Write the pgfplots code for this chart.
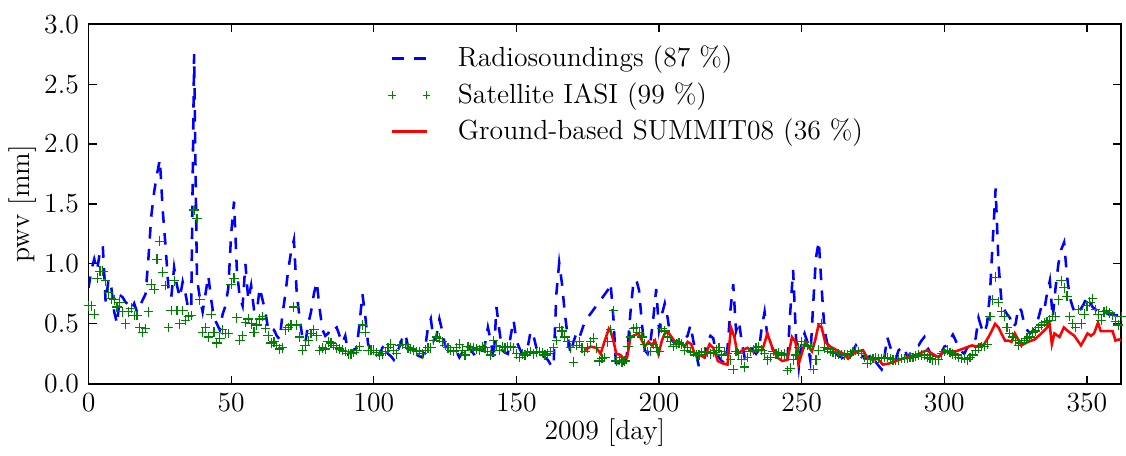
\documentclass[12pt,border=0pt]{standalone}
\usepackage{pgfplots}
\usepackage{pgfplotstable}
\pgfplotsset{compat=1.18}

\definecolor{mplblue}{rgb}{0,0,1}
\definecolor{mplgreen}{rgb}{0,0.5,0}
\definecolor{mplred}{rgb}{1,0,0}

\pgfplotsset{
    shortline legend/.style={legend image code/.code={\draw[##1] (0pt,0pt) -- (15pt,0pt); \path (28pt,0pt);}},
    twomark legend/.style={legend image code/.code={\path[##1, mark size=1.6pt] plot[only marks] coordinates {(0pt,0pt) (15pt,0pt)}; \path (28pt,0pt);}},
}

% radiosoundings, day / pwv
\pgfplotstableread{
day pwv
0 0.80
1 0.95
2 1.04
3 0.95
4 1.10
5 1.15
6 0.68
7 0.87
8 0.80
9 0.60
10 0.50
11 0.74
12 0.72
13 0.68
14 0.66
15 0.62
16 0.67
17 0.60
18 0.65
19 0.70
20 0.75
21 1.05
22 1.40
23 1.60
24 1.75
25 1.87
26 1.45
27 1.15
28 0.80
29 0.72
30 0.97
31 0.82
32 0.72
33 0.85
34 0.75
35 0.62
36 0.65
37 2.75
38 0.88
39 0.72
40 0.60
41 0.75
42 0.90
43 0.70
44 0.55
45 0.50
46 0.45
47 0.58
48 0.65
49 0.80
50 1.25
51 1.52
52 0.95
53 0.72
54 0.65
55 1.00
56 0.70
57 0.82
58 0.62
59 0.60
60 0.80
61 0.70
62 0.60
63 0.45
64 0.47
65 0.45
66 0.40
67 0.37
68 0.58
69 0.75
70 0.95
71 1.10
72 1.20
73 0.75
74 0.55
75 0.38
76 0.34
77 0.50
78 0.60
79 0.75
80 0.85
81 0.63
82 0.45
83 0.40
84 0.42
85 0.47
86 0.45
87 0.47
88 0.40
89 0.34
90 0.40
91 0.25
92 0.27
93 0.28
94 0.30
95 0.50
96 0.75
97 0.57
98 0.33
99 0.28
100 0.25
101 0.24
102 0.24
103 0.30
104 0.33
105 0.25
106 0.23
107 0.20
108 0.25
109 0.31
110 0.38
111 0.42
112 0.31
113 0.28
114 0.25
115 0.24
116 0.23
117 0.22
118 0.30
119 0.47
120 0.54
121 0.36
122 0.40
123 0.54
124 0.44
125 0.32
126 0.30
127 0.29
128 0.28
129 0.27
130 0.22
131 0.26
132 0.30
133 0.33
134 0.28
135 0.25
136 0.22
137 0.24
138 0.28
139 0.33
140 0.47
141 0.36
142 0.20
143 0.64
144 0.45
145 0.28
146 0.26
147 0.25
148 0.40
149 0.53
150 0.36
151 0.30
152 0.25
153 0.28
154 0.31
155 0.44
156 0.40
157 0.30
158 0.25
159 0.23
160 0.22
161 0.20
162 0.16
163 0.14
164 0.75
165 1.01
166 0.83
167 0.58
168 0.39
169 0.25
170 0.35
171 0.42
172 0.38
174 0.52
182 0.78
183 0.84
184 0.55
185 0.12
186 0.18
187 0.20
188 0.12
189 0.30
190 0.60
191 0.84
192 0.87
193 0.78
194 0.50
195 0.28
196 0.25
197 0.35
198 0.55
199 0.79
200 0.45
201 0.58
202 0.67
203 0.55
204 0.39
205 0.35
206 0.33
207 0.34
208 0.36
209 0.38
210 0.40
211 0.49
212 0.36
213 0.25
214 0.14
215 0.18
216 0.22
217 0.35
218 0.40
219 0.38
220 0.25
221 0.22
222 0.19
223 0.17
224 0.30
225 0.61
226 0.83
227 0.44
228 0.52
229 0.35
230 0.22
231 0.26
232 0.30
233 0.28
234 0.25
235 0.28
236 0.47
237 0.60
238 0.39
239 0.33
240 0.28
241 0.27
242 0.25
243 0.23
244 0.21
245 0.20
246 0.60
247 0.95
248 0.39
249 0.14
250 0.36
251 0.42
252 0.35
253 0.20
254 0.65
255 1.05
256 1.19
257 0.80
258 0.45
259 0.33
260 0.33
261 0.30
262 0.25
263 0.23
264 0.22
265 0.21
266 0.20
267 0.24
268 0.28
269 0.32
270 0.28
271 0.25
272 0.21
273 0.22
274 0.23
275 0.25
276 0.18
277 0.15
278 0.12
279 0.22
280 0.39
281 0.31
282 0.25
283 0.21
284 0.28
285 0.30
286 0.31
287 0.22
288 0.25
289 0.28
290 0.31
291 0.32
292 0.36
293 0.39
294 0.31
295 0.26
296 0.24
297 0.22
298 0.20
299 0.25
300 0.31
301 0.32
302 0.37
303 0.41
304 0.36
305 0.30
306 0.27
307 0.25
308 0.30
309 0.32
310 0.33
311 0.38
312 0.55
313 0.47
314 0.42
315 0.50
316 0.75
317 1.20
318 1.63
319 1.00
320 0.70
321 0.62
322 0.58
323 0.55
324 0.47
325 0.50
326 0.64
327 0.61
328 0.50
329 0.45
330 0.42
331 0.44
332 0.47
333 0.55
334 0.64
335 0.61
336 0.75
337 0.86
338 0.55
339 0.80
340 1.00
341 1.12
342 1.18
343 0.90
344 0.72
345 0.64
346 0.58
347 0.60
348 0.63
349 0.67
350 0.73
351 0.68
352 0.64
353 0.62
354 0.60
356 0.59
358 0.58
360 0.57
362 0.57
}\radio

% satellite IASI
\pgfplotstableread{
day pwv
0 0.65
1 0.65
2 0.58
3 0.88
4 0.94
5 0.94
6 0.86
7 0.76
8 0.71
9 0.70
10 0.64
11 0.68
12 0.60
13 0.50
14 0.60
15 0.63
16 0.57
17 0.57
18 0.47
19 0.43
20 0.46
21 0.60
22 0.83
23 0.79
24 1.04
25 1.19
26 0.93
27 0.82
28 0.47
29 0.61
30 0.86
31 0.61
32 0.50
33 0.61
34 0.53
35 0.56
36 0.57
37 1.45
38 1.38
39 0.70
40 0.43
41 0.47
42 0.39
43 0.58
44 0.43
45 0.34
46 0.38
47 0.45
48 0.42
49 0.42
50 0.83
51 0.88
52 0.55
53 0.36
54 0.40
55 0.51
56 0.54
57 0.50
58 0.43
59 0.49
60 0.54
61 0.56
62 0.46
63 0.40
64 0.34
65 0.35
66 0.32
67 0.29
68 0.30
69 0.45
70 0.47
71 0.49
72 0.64
73 0.49
74 0.39
75 0.28
76 0.32
77 0.36
78 0.42
79 0.45
80 0.40
81 0.28
82 0.30
83 0.29
84 0.35
85 0.34
86 0.32
87 0.30
88 0.29
89 0.28
90 0.27
91 0.25
92 0.25
93 0.26
94 0.28
95 0.31
96 0.49
97 0.43
98 0.28
99 0.28
100 0.28
101 0.26
102 0.24
103 0.25
104 0.27
105 0.30
106 0.33
107 0.28
108 0.25
109 0.32
110 0.33
111 0.33
112 0.30
113 0.29
114 0.28
115 0.27
116 0.27
117 0.25
118 0.28
119 0.30
120 0.30
121 0.36
122 0.39
123 0.38
124 0.35
125 0.32
126 0.30
127 0.28
128 0.27
129 0.30
130 0.33
131 0.28
132 0.24
133 0.31
134 0.30
135 0.30
136 0.29
137 0.28
138 0.31
139 0.30
140 0.27
141 0.24
142 0.36
143 0.32
144 0.28
145 0.31
146 0.30
147 0.31
148 0.31
149 0.30
150 0.25
151 0.22
152 0.25
153 0.24
154 0.26
155 0.27
156 0.25
157 0.26
158 0.27
159 0.26
160 0.24
161 0.25
162 0.27
163 0.30
164 0.36
165 0.47
166 0.44
167 0.39
168 0.35
169 0.30
170 0.18
171 0.32
172 0.35
173 0.30
174 0.27
175 0.30
176 0.35
177 0.38
178 0.30
179 0.19
180 0.21
181 0.22
182 0.35
183 0.45
184 0.61
185 0.19
186 0.22
187 0.18
188 0.19
189 0.31
190 0.39
191 0.46
192 0.47
193 0.43
194 0.39
195 0.33
196 0.27
197 0.27
198 0.33
199 0.30
200 0.27
201 0.46
202 0.44
203 0.39
204 0.35
205 0.31
206 0.33
207 0.34
208 0.33
209 0.28
210 0.30
211 0.27
212 0.26
213 0.24
214 0.24
215 0.26
216 0.27
217 0.26
218 0.25
219 0.26
220 0.28
221 0.30
222 0.24
223 0.27
224 0.25
225 0.20
226 0.12
227 0.27
228 0.25
229 0.20
230 0.14
231 0.22
232 0.27
233 0.28
234 0.30
235 0.31
236 0.28
237 0.25
238 0.20
239 0.22
240 0.27
241 0.25
242 0.26
243 0.24
244 0.25
245 0.11
246 0.13
247 0.20
248 0.24
249 0.30
250 0.35
251 0.33
252 0.32
253 0.31
254 0.12
255 0.20
256 0.28
257 0.50
258 0.30
259 0.29
260 0.27
261 0.26
262 0.25
263 0.25
264 0.24
265 0.24
266 0.24
267 0.25
268 0.27
269 0.28
270 0.27
271 0.25
272 0.22
273 0.17
274 0.20
275 0.21
276 0.22
277 0.21
278 0.21
279 0.22
280 0.22
281 0.21
282 0.20
283 0.20
284 0.20
285 0.21
286 0.21
287 0.21
288 0.22
289 0.22
290 0.23
291 0.24
292 0.24
293 0.24
294 0.22
295 0.21
296 0.20
297 0.20
298 0.20
299 0.25
300 0.27
301 0.28
302 0.26
303 0.25
304 0.24
305 0.22
306 0.21
307 0.21
308 0.20
309 0.22
310 0.24
311 0.28
312 0.30
313 0.31
314 0.31
315 0.33
316 0.56
317 0.70
318 0.89
319 0.68
320 0.60
321 0.56
322 0.47
323 0.42
324 0.39
325 0.36
326 0.32
327 0.34
328 0.36
329 0.38
330 0.39
331 0.43
332 0.44
333 0.47
334 0.49
335 0.51
336 0.52
337 0.53
338 0.56
339 0.56
340 0.70
341 0.86
342 0.80
343 0.73
344 0.56
345 0.50
346 0.47
347 0.62
348 0.50
349 0.58
350 0.65
351 0.68
352 0.71
353 0.62
354 0.58
355 0.53
356 0.60
357 0.61
358 0.59
359 0.57
360 0.52
361 0.49
362 0.56
}\iasi

% ground-based SUMMIT08
\pgfplotstableread{
day pwv
174 0.28
176 0.31
178 0.30
179.5 0.25
181 0.36
182.4 0.46
183 0.44
184 0.36
185 0.25
186.5 0.24
187.6 0.21
188.8 0.22
190 0.39
191 0.40
192.8 0.42
194 0.36
195 0.31
196.3 0.35
197.5 0.32
198.6 0.36
199.8 0.25
201 0.36
202 0.42
203.2 0.43
204.4 0.39
205.6 0.35
206.7 0.36
208 0.33
209 0.31
210 0.35
211.3 0.33
212.5 0.25
214.2 0.24
216 0.22
217.7 0.33
219 0.30
220.6 0.19
222.3 0.17
224 0.16
225.2 0.47
226.4 0.39
227.5 0.25
229.3 0.28
231 0.30
232.8 0.27
234.5 0.28
236.2 0.28
238 0.42
239.7 0.30
241.4 0.22
243.2 0.19
245 0.20
246.6 0.39
247.8 0.35
249 0.17
250 0.25
251.3 0.35
252.4 0.31
253.6 0.27
254.7 0.36
255.9 0.49
257 0.47
258.2 0.35
260 0.31
262.3 0.28
264.6 0.25
266.3 0.21
268 0.25
269.8 0.27
271.5 0.28
273.2 0.21
275 0.20
276.7 0.21
278.4 0.16
280.8 0.17
285.4 0.21
290 0.24
294 0.28
295.8 0.25
298 0.22
300 0.28
301 0.27
304 0.27
307.4 0.30
309.7 0.32
311.4 0.31
312.6 0.33
313.7 0.32
315.5 0.39
316.6 0.44
317.8 0.50
319 0.47
320 0.42
321.3 0.36
322.4 0.36
323.6 0.35
324.7 0.42
325.9 0.37
327 0.32
329.4 0.35
331.7 0.37
334 0.42
335.7 0.46
336.9 0.50
337.7 0.33
338.6 0.42
340.4 0.39
341.9 0.47
343.3 0.44
345.6 0.40
347.9 0.32
349.1 0.37
350.2 0.42
351.4 0.40
352.5 0.42
353.9 0.51
354.8 0.44
357 0.44
359 0.44
360 0.36
361.2 0.37
362.4 0.36
}\summit

\begin{document}
\begin{tikzpicture}
\begin{axis}[
    scale only axis,
    width=448pt,
    height=156pt,
    xmin=0, xmax=362,
    ymin=0, ymax=3,
    xtick={0,50,...,350},
    ytick={0,0.5,...,3},
    yticklabel style={/pgf/number format/.cd, fixed, fixed zerofill, precision=1},
    tick align=inside,
    major tick length=3.5pt,
    tick style={black, line width=0.5pt},
    axis line style={line width=0.8pt},
    xlabel={2009 [day]},
    ylabel={pwv [mm]},
    xlabel style={yshift=5pt},
    ylabel style={yshift=-5pt},
    legend cell align=left,
    legend style={draw=none, fill=none, at={(rel axis cs:0.29,0.94)}, anchor=north west,
                  row sep=5pt, inner sep=0pt, nodes={inner sep=0pt}},
]
\addplot[mplblue, line width=1.1pt, dash pattern=on 5pt off 4.5pt, shortline legend]
    table[x=day, y=pwv] {\radio};
\addlegendentry{Radiosoundings (87 \%)}
\addplot[mplgreen, only marks, mark=+, mark size=2.1pt, mark options={line width=0.5pt}, twomark legend]
    table[x=day, y=pwv] {\iasi};
\addlegendentry{Satellite IASI (99 \%)}
\addplot[mplred, line width=1.1pt, shortline legend]
    table[x=day, y=pwv] {\summit};
\addlegendentry{Ground-based SUMMIT08 (36 \%)}
\end{axis}
\path ([yshift=10.5pt]current axis.north);
\end{tikzpicture}
\end{document}
